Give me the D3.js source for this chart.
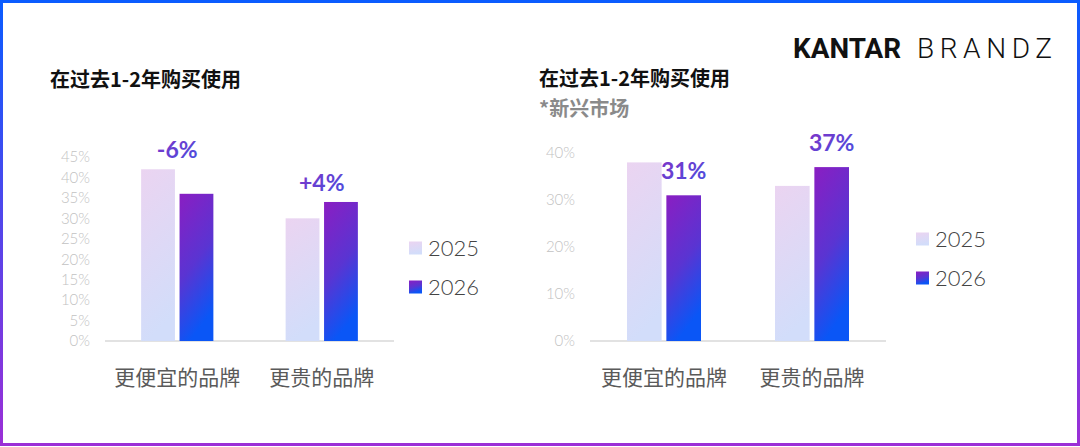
<!DOCTYPE html>
<html>
<head>
<meta charset="utf-8">
<script src="https://cdn.jsdelivr.net/npm/d3@7"></script>
<style>
  html, body { margin: 0; padding: 0; background: #fff; }
  svg { display: block; }
</style>
</head>
<body>
<svg id="chart" width="1080" height="447"></svg>
<script>
// Data
const categories = ['更便宜的品牌', '更贵的品牌'];
const years = ['2025', '2026'];

const leftValues2025 = [0.42, 0.30];
const leftValues2026 = [0.36, 0.34];
const leftLabels = ['-6%', '+4%'];
const leftTicks = [0, 0.05, 0.10, 0.15, 0.20, 0.25, 0.30, 0.35, 0.40, 0.45];

const rightValues2025 = [0.38, 0.33];
const rightValues2026 = [0.31, 0.37];
const rightLabels = ['31%', '37%'];
const rightTicks = [0, 0.10, 0.20, 0.30, 0.40];

const cjk = '"Noto Sans CJK SC", "Noto Sans", sans-serif';
const latin = 'Lato, Roboto, "Noto Sans", sans-serif';

const svg = d3.select('#chart');
const defs = svg.append('defs');

// Gradients
const frameGrad = defs.append('linearGradient').attr('id', 'frame')
  .attr('x1', 0).attr('y1', 0).attr('x2', 0).attr('y2', 1);
frameGrad.append('stop').attr('offset', '0%').attr('stop-color', '#0a5cff');
frameGrad.append('stop').attr('offset', '100%').attr('stop-color', '#9b2fd6');

const lightGrad = defs.append('linearGradient').attr('id', 'g2025')
  .attr('x1', 0).attr('y1', 0).attr('x2', 0.2).attr('y2', 1);
lightGrad.append('stop').attr('offset', '0%').attr('stop-color', '#ebd4f1');
lightGrad.append('stop').attr('offset', '100%').attr('stop-color', '#d2ddfa');

const darkGrad = defs.append('linearGradient').attr('id', 'g2026')
  .attr('x1', 0).attr('y1', 0).attr('x2', 0.3).attr('y2', 1);
darkGrad.append('stop').attr('offset', '0%').attr('stop-color', '#8a1ec2');
darkGrad.append('stop').attr('offset', '55%').attr('stop-color', '#5a34d2');
darkGrad.append('stop').attr('offset', '100%').attr('stop-color', '#0a56f6');

const textGrad = defs.append('linearGradient').attr('id', 'gtext')
  .attr('x1', 0).attr('y1', 0).attr('x2', 1).attr('y2', 1);
textGrad.append('stop').attr('offset', '0%').attr('stop-color', '#8232c6');
textGrad.append('stop').attr('offset', '100%').attr('stop-color', '#4650e0');

const fills = { '2025': 'url(#g2025)', '2026': 'url(#g2026)' };

// Frame
svg.append('rect')
  .attr('x', 1.5).attr('y', 1.5)
  .attr('width', 1077).attr('height', 443)
  .attr('fill', 'none')
  .attr('stroke', 'url(#frame)')
  .attr('stroke-width', 3);

// Logo
svg.append('text')
  .attr('x', 793).attr('y', 58)
  .attr('font-family', 'Roboto, Lato, sans-serif')
  .attr('font-weight', 700).attr('font-size', 27)
  .attr('textLength', 108).attr('lengthAdjust', 'spacingAndGlyphs')
  .attr('fill', '#111').text('KANTAR');
svg.append('text')
  .attr('x', 917).attr('y', 58)
  .attr('font-family', 'Roboto, Lato, sans-serif')
  .attr('font-weight', 300).attr('font-size', 28)
  .attr('textLength', 135).attr('lengthAdjust', 'spacing')
  .attr('fill', '#111').text('BRANDZ');

// Titles
function title(x, y, txt, color, size) {
  svg.append('text')
    .attr('x', x).attr('y', y)
    .attr('font-family', cjk)
    .attr('font-weight', 700).attr('font-size', size)
    .attr('fill', color).text(txt);
}
title(50, 87, '在过去1-2年购买使用', '#111', 20);
title(539, 86, '在过去1-2年购买使用', '#111', 20);
title(539, 116, '*新兴市场', '#8a8a8a', 20);

// One panel
function drawPanel(opt) {
  const y = d3.scaleLinear().domain(opt.domain).range([opt.y0, opt.y1]);
  const x = d3.scaleBand().domain(categories).range([opt.x0, opt.x1])
    .paddingInner(0.5).paddingOuter(0.25);
  const xs = d3.scaleBand().domain(years).range([0, x.bandwidth()])
    .paddingInner(0.12);

  const g = svg.append('g');

  // Y axis labels
  const axis = g.append('g')
    .attr('transform', `translate(${opt.x0 - 15},0)`)
    .call(d3.axisLeft(y).tickValues(opt.ticks).tickSize(0).tickPadding(0)
      .tickFormat(d3.format('.0%')));
  axis.select('.domain').remove();
  axis.selectAll('text')
    .attr('font-family', latin).attr('font-size', 15).attr('font-weight', 300)
    .attr('fill', '#c2c2c2');

  // Baseline
  g.append('line')
    .attr('x1', opt.x0).attr('x2', opt.x1)
    .attr('y1', y(0)).attr('y2', y(0))
    .attr('stroke', '#e2e2e2').attr('stroke-width', 2);

  // Bars
  const series = { '2025': opt.v2025, '2026': opt.v2026 };
  years.forEach(yr => {
    g.selectAll(null)
      .data(categories)
      .enter()
      .append('rect')
        .attr('x', d => x(d) + xs(yr))
        .attr('y', (d, i) => y(series[yr][i]))
        .attr('width', xs.bandwidth())
        .attr('height', (d, i) => y(0) - y(series[yr][i]))
        .attr('fill', fills[yr]);
  });

  // Value labels
  g.selectAll(null)
    .data(categories)
    .enter()
    .append('text')
      .attr('x', (d, i) => opt.overBar
        ? x(d) + xs('2026') + xs.bandwidth() / 2
        : x(d) + x.bandwidth() / 2)
      .attr('y', (d, i) => opt.overBar
        ? y(opt.v2026[i]) - 16
        : y(Math.max(opt.v2025[i], opt.v2026[i])) - 11)
      .attr('text-anchor', 'middle')
      .attr('font-family', latin).attr('font-weight', 700).attr('font-size', 23)
      .attr('fill', 'url(#gtext)')
      .text((d, i) => opt.labels[i]);

  // Category labels
  g.selectAll(null)
    .data(categories)
    .enter()
    .append('text')
      .attr('x', d => x(d) + x.bandwidth() / 2)
      .attr('y', 385)
      .attr('text-anchor', 'middle')
      .attr('font-family', cjk).attr('font-size', 21)
      .attr('fill', '#5a5a5a')
      .text(d => d);

  // Legend
  years.forEach((yr, i) => {
    const ly = opt.legendY + i * 39;
    g.append('rect')
      .attr('x', opt.legendX).attr('y', ly - 6.5)
      .attr('width', 13).attr('height', 13)
      .attr('fill', fills[yr]);
    g.append('text')
      .attr('x', opt.legendX + 19).attr('y', ly + 8)
      .attr('font-family', latin).attr('font-size', 22).attr('font-weight', 300)
      .attr('fill', '#444')
      .text(yr);
  });
}

drawPanel({
  domain: [0, 0.45], y0: 341, y1: 157, x0: 105, x1: 394,
  ticks: leftTicks, v2025: leftValues2025, v2026: leftValues2026,
  labels: leftLabels, overBar: false, legendX: 409, legendY: 248
});

drawPanel({
  domain: [0, 0.40], y0: 341, y1: 153, x0: 590, x1: 886,
  ticks: rightTicks, v2025: rightValues2025, v2026: rightValues2026,
  labels: rightLabels, overBar: true, legendX: 916, legendY: 239
});
</script>
</body>
</html>
